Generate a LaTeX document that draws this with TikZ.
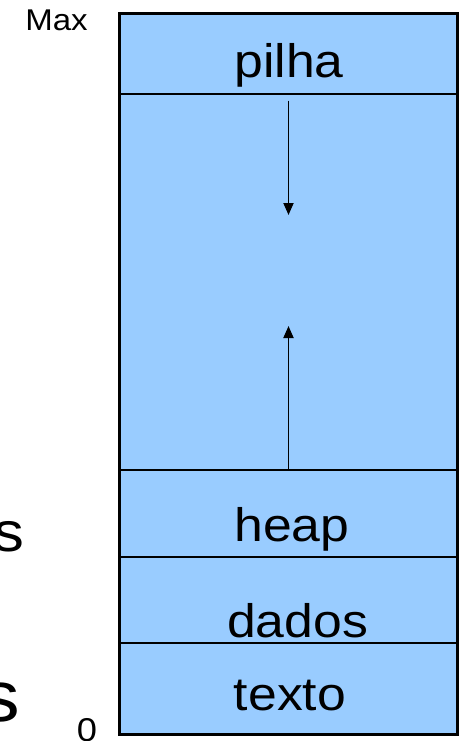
\documentclass[tikz,border=0pt]{standalone}
\usepackage{fontspec}
\usetikzlibrary{arrows.meta}
\newfontfamily\lblfont[FakeStretch=1.1]{Liberation Sans}
\definecolor{memblue}{HTML}{99CCFF}
\tikzset{
  seg/.style={draw, fill=memblue, line width=1.2pt, minimum width=337pt, inner sep=0pt},
  lbl/.style={anchor=base, inner sep=0pt, font=\lblfont\fontsize{47}{47}\selectfont},
  lim/.style={anchor=base, inner sep=0pt, font=\lblfont\fontsize{30}{30}\selectfont},
  seta/.style={line width=1.8pt, -{Triangle[length=12pt,width=10pt]}},
}

\begin{document}
\begin{tikzpicture}[x=1pt, y=-1pt]
    \useasboundingbox (0,0) rectangle (460,741);

    % segmentos da memoria
    \node (pilha) at (288.5,54) [seg, minimum height=80pt] {};
    \node (livre) at (288.5,282) [seg, minimum height=376pt] {};
    \node (heap) at (288.5,513.5) [seg, minimum height=87pt] {};
    \node (dados) at (288.5,600) [seg, minimum height=86pt] {};
    \node (texto) at (288.5,688.5) [seg, minimum height=91pt] {};
    \draw[line width=2.5pt] (pilha.north west) rectangle (texto.south east);

    \node (lpilha) at (289,78) [lbl] {pilha};
    \node (lheap) at (292,541) [lbl] {heap};
    \node (ldados) at (297.5,637) [lbl] {dados};
    \node (ltexto) at (290,710) [lbl] {texto};

    % crescimento
    \coordinate (topo) at (288.5,215);
    \coordinate (base) at (288.5,326);
    \draw[seta, shorten <=6pt] (pilha.south) -- (topo);
    \draw[seta] (heap.north) -- (base);

    % enderecos
    \node (max) at (56.5,31) [lim] {Max};
    \node (zero) at (87,741) [lim, font=\lblfont\fontsize{33}{33}\selectfont] {0};

    \node (s1) at (25,551) [anchor=base east, inner sep=0pt, font=\lblfont\fontsize{56}{56}\selectfont] {s};
    \node (s2) at (20,721) [anchor=base east, inner sep=0pt, font=\lblfont\fontsize{72}{72}\selectfont] {s};
\end{tikzpicture}
\end{document}
